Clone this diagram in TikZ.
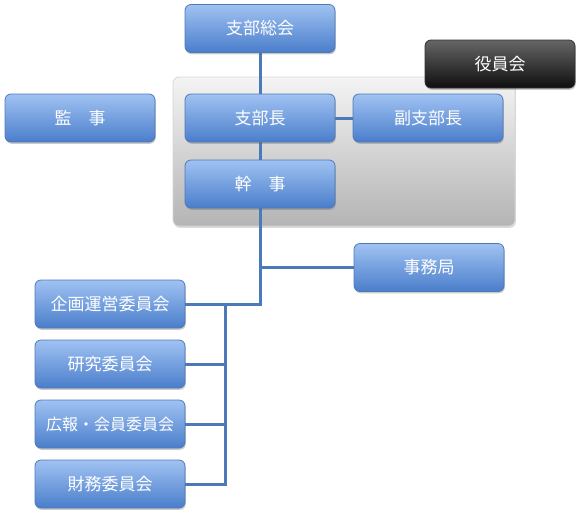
\documentclass[tikz,border=0pt]{standalone}
\usepackage{fontspec}
\setmainfont{Noto Sans CJK JP}
\usetikzlibrary{shadows}
\definecolor{bluetop}{HTML}{A0C2F2}
\definecolor{bluebot}{HTML}{4A7ECB}
\definecolor{blueedge}{HTML}{4E79B8}
\definecolor{blueline}{HTML}{4A7AB8}
\definecolor{paneltop}{HTML}{F4F4F4}
\definecolor{panelbot}{HTML}{B4B4B4}
\definecolor{paneledge}{HTML}{D6D6D6}
\definecolor{darktop}{HTML}{666666}
\definecolor{darkbot}{HTML}{0E0E0E}
\pgfdeclarelayer{panellayer}
\pgfdeclarelayer{linelayer}
\pgfsetlayers{panellayer,linelayer,main}
\begin{document}
\begin{tikzpicture}[x=1pt,y=-1pt,
  bbox/.style={draw=blueedge, line width=0.8pt, rounded corners=6pt,
    top color=bluetop, bottom color=bluebot, text=white,
    font=\fontsize{17}{17}\selectfont, minimum width=150pt, minimum height=48pt,
    inner sep=0pt,
    drop shadow={shadow xshift=0.8pt, shadow yshift=-1.8pt, opacity=0.35, fill=black!60}},
  darkbox/.style={bbox, draw=black!80, top color=darktop, bottom color=darkbot},
  panelbox/.style={draw=paneledge, line width=0.8pt, rounded corners=6pt,
    top color=paneltop, bottom color=panelbot, inner sep=0pt,
    drop shadow={shadow xshift=0.8pt, shadow yshift=-1.8pt, opacity=0.3, fill=black!50}},
  conn/.style={draw=blueline, line width=3pt}]
\useasboundingbox (0,0) rectangle (580,515);
% panel
\begin{pgfonlayer}{panellayer}
\node[panelbox, minimum width=342pt, minimum height=149pt] (panel) at (344,151.5) {};
\end{pgfonlayer}
% nodes
\node[darkbox] (yakuin) at (500,64) {役員会};
\node[bbox] (sokai) at (260,28.5) {支部総会};
\node[bbox] (shibucho) at (260,118) {支部長};
\node[bbox] (fuku) at (428,118) {副支部長};
\node[bbox] (kanji) at (260,184) {幹　事};
\node[bbox] (kansa) at (80,118) {監　事};
\node[bbox] (jimu) at (429,267.5) {事務局};
\node[bbox] (kikaku) at (110,304) {企画運営委員会};
\node[bbox] (kenkyu) at (110,364) {研究委員会};
\node[bbox, font=\fontsize{16}{16}\selectfont] (koho) at (110,424) {広報・会員委員会};
\node[bbox] (zaimu) at (110,484) {財務委員会};
\coordinate (vx) at (225,304);
% connectors
\begin{pgfonlayer}{linelayer}
\draw[conn] (sokai.south) -- (shibucho.north);
\draw[conn] (shibucho.south) -- (kanji.north);
\draw[conn] (shibucho.east) -- (fuku.west);
\draw[conn] (kanji.south) |- (kikaku.east);
\draw[conn] (kanji.south) |- (jimu.west);
\draw[conn] (vx) |- (zaimu.east);
\draw[conn] (vx |- kenkyu.east) -- (kenkyu.east);
\draw[conn] (vx |- koho.east) -- (koho.east);
\end{pgfonlayer}
\end{tikzpicture}
\end{document}
